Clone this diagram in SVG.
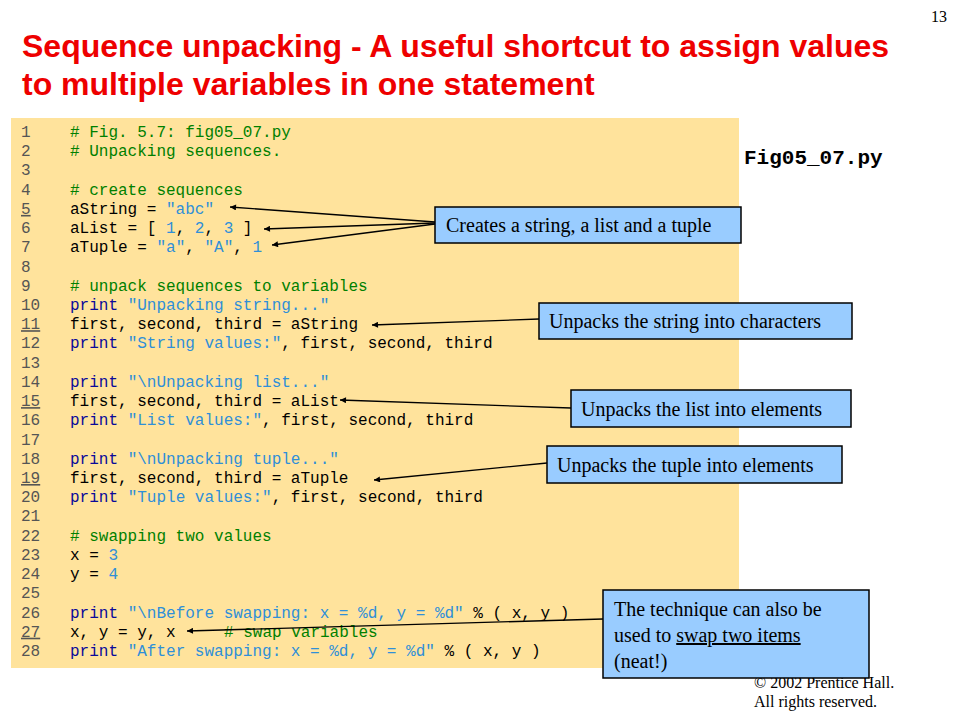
<svg xmlns="http://www.w3.org/2000/svg" width="960" height="720" viewBox="0 0 960 720">
<defs>
<style>
.title{font-family:"Liberation Sans",Arial,sans-serif;font-weight:bold;font-size:32px;fill:#EE0000}
.code{font-family:"Liberation Mono","Courier New",monospace;font-size:16px;fill:#000}
.ln{font-family:"Liberation Mono","Courier New",monospace;font-size:16px;fill:#555}
.cm{fill:#008000}
.kw{fill:#0A0A9A}
.st{fill:#2F8FD8}
.box{fill:#99CCFF;stroke:#000;stroke-width:1.5}
.lbl{font-family:"Liberation Serif","Times New Roman",serif;font-size:20px;fill:#000}
.small{font-family:"Liberation Serif","Times New Roman",serif;font-size:16px;fill:#000}
.conn{stroke:#000;stroke-width:1.3;fill:none;marker-end:url(#ah)}
</style>
<marker id="ah" viewBox="0 0 10 10" refX="10" refY="5" markerWidth="8" markerHeight="6" orient="auto" markerUnits="userSpaceOnUse">
<path d="M0,0 L10,5 L0,10 z" fill="#000"/>
</marker>
</defs>
<rect width="960" height="720" fill="#fff"/>
<text x="931" y="22" class="small">13</text>
<text x="22" y="57" class="title">Sequence unpacking - A useful shortcut to assign values</text>
<text x="22" y="95" class="title">to multiple variables in one statement</text>
<text x="744" y="164" font-family="Liberation Mono,'Courier New',monospace" font-size="21" font-weight="bold">Fig05_07.py</text>

<g id="code-panel">
<rect x="11" y="118" width="728" height="550" fill="#FFE39C"/>
<g class="ln">
<text x="21" y="137">1</text>
<text x="21" y="156.2">2</text>
<text x="21" y="175.4">3</text>
<text x="21" y="194.7">4</text>
<text x="21" y="213.9" text-decoration="underline">5</text>
<text x="21" y="233.1">6</text>
<text x="21" y="252.3">7</text>
<text x="21" y="271.5">8</text>
<text x="21" y="290.8">9</text>
<text x="21" y="310">10</text>
<text x="21" y="329.2" text-decoration="underline">11</text>
<text x="21" y="348.4">12</text>
<text x="21" y="367.6">13</text>
<text x="21" y="386.9">14</text>
<text x="21" y="406.1" text-decoration="underline">15</text>
<text x="21" y="425.3">16</text>
<text x="21" y="444.5">17</text>
<text x="21" y="463.7">18</text>
<text x="21" y="483" text-decoration="underline">19</text>
<text x="21" y="502.2">20</text>
<text x="21" y="521.4">21</text>
<text x="21" y="540.6">22</text>
<text x="21" y="559.8">23</text>
<text x="21" y="579.1">24</text>
<text x="21" y="598.3">25</text>
<text x="21" y="617.5">26</text>
<text x="21" y="636.7" text-decoration="underline">27</text>
<text x="21" y="655.9">28</text>
</g>
<g class="code" xml:space="preserve">
<text x="70" y="137" class="code cm"># Fig. 5.7: fig05_07.py</text>
<text x="70" y="156.2" class="code cm"># Unpacking sequences.</text>
<text x="70" y="194.7" class="code cm"># create sequences</text>
<text x="70" y="213.9">aString = <tspan class="st">"abc"</tspan></text>
<text x="70" y="233.1">aList = [ <tspan class="st">1</tspan>, <tspan class="st">2</tspan>, <tspan class="st">3</tspan> ]</text>
<text x="70" y="252.3">aTuple = <tspan class="st">"a"</tspan>, <tspan class="st">"A"</tspan>, <tspan class="st">1</tspan></text>
<text x="70" y="290.8" class="code cm"># unpack sequences to variables</text>
<text x="70" y="310"><tspan class="kw">print</tspan> <tspan class="st">"Unpacking string..."</tspan></text>
<text x="70" y="329.2">first, second, third = aString</text>
<text x="70" y="348.4"><tspan class="kw">print</tspan> <tspan class="st">"String values:"</tspan>, first, second, third</text>
<text x="70" y="386.9"><tspan class="kw">print</tspan> <tspan class="st">"\nUnpacking list..."</tspan></text>
<text x="70" y="406.1">first, second, third = aList</text>
<text x="70" y="425.3"><tspan class="kw">print</tspan> <tspan class="st">"List values:"</tspan>, first, second, third</text>
<text x="70" y="463.7"><tspan class="kw">print</tspan> <tspan class="st">"\nUnpacking tuple..."</tspan></text>
<text x="70" y="483">first, second, third = aTuple</text>
<text x="70" y="502.2"><tspan class="kw">print</tspan> <tspan class="st">"Tuple values:"</tspan>, first, second, third</text>
<text x="70" y="540.6" class="code cm"># swapping two values</text>
<text x="70" y="559.8">x = <tspan class="st">3</tspan></text>
<text x="70" y="579.1">y = <tspan class="st">4</tspan></text>
<text x="70" y="617.5"><tspan class="kw">print</tspan> <tspan class="st">"\nBefore swapping: x = %d, y = %d"</tspan> % ( x, y )</text>
<text x="70" y="636.7">x, y = y, x<tspan x="224" class="cm"># swap variables</tspan></text>
<text x="70" y="655.9"><tspan class="kw">print</tspan> <tspan class="st">"After swapping: x = %d, y = %d"</tspan> % ( x, y )</text>
</g>
</g>

<g id="copyright">
<text x="754" y="688" class="small">© 2002 Prentice Hall.</text>
<text x="754" y="707" class="small">All rights reserved.</text>
</g>

<g id="connectors">
<line class="conn" x1="435" y1="222" x2="230" y2="207"/>
<line class="conn" x1="435" y1="223" x2="264" y2="229"/>
<line class="conn" x1="435" y1="224" x2="272" y2="245"/>
<line class="conn" x1="539" y1="319" x2="372" y2="325"/>
<line class="conn" x1="571" y1="408" x2="340" y2="400"/>
<line class="conn" x1="547" y1="463" x2="374" y2="480"/>
<line class="conn" x1="603" y1="619" x2="187" y2="631"/>
</g>

<g id="note-create">
<rect class="box" x="435" y="207" width="306" height="36"/>
<text x="446" y="232" class="lbl">Creates a string, a list and a tuple</text>
</g>
<g id="note-string">
<rect class="box" x="539" y="303" width="313" height="36"/>
<text x="549" y="328" class="lbl">Unpacks the string into characters</text>
</g>
<g id="note-list">
<rect class="box" x="571" y="390" width="280" height="37"/>
<text x="581" y="416" class="lbl">Unpacks the list into elements</text>
</g>
<g id="note-tuple">
<rect class="box" x="547" y="446" width="295" height="37"/>
<text x="557" y="472" class="lbl">Unpacks the tuple into elements</text>
</g>
<g id="note-swap">
<rect class="box" x="603" y="590" width="266" height="88"/>
<text x="614" y="616" class="lbl">The technique can also be</text>
<text x="614" y="642" class="lbl">used to <tspan text-decoration="underline">swap two items</tspan></text>
<text x="614" y="668" class="lbl">(neat!)</text>
</g>
</svg>
